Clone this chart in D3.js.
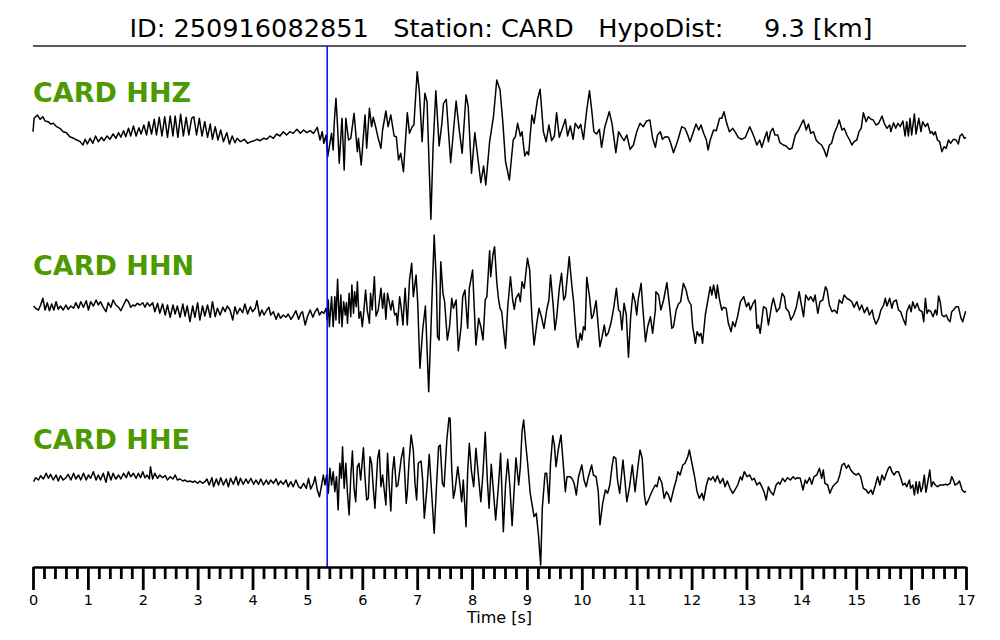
<!DOCTYPE html>
<html><head><meta charset="utf-8">
<script src="https://cdn.jsdelivr.net/npm/d3@7"></script>
<style>body{margin:0;background:#fff}svg{display:block;font-family:"DejaVu Sans",sans-serif}</style>
</head><body>
<svg id="chart" width="1000" height="640"></svg>
<script>
// ---- data ----
const eventId = "250916082851";
const station = "CARD";
const hypoDistKm = 9.3;
const channels = ["CARD HHZ", "CARD HHN", "CARD HHE"];
const pickTime = 5.36; // s
const majorTicks = d3.range(0, 18, 1);
const tickLabels = majorTicks.map(String);
const minorTicks = d3.range(0, 85).map(i => i * 0.2).filter(v => Math.abs(v - Math.round(v)) > 1e-6);

// [time s, amplitude] vertices
const hhz = [[0,3.3],[0.02,16.7],[0.08,20],[0.13,15.7],[0.18,18.3],[0.22,14],[0.28,13.3],[0.32,11],[0.37,11.7],[0.43,8.3],[0.49,6.7],[0.55,3.3],[0.61,2.3],[0.67,-1.7],[0.74,-3.3],[0.80,-5],[0.86,-6.7],[0.91,-10],[0.95,-4.3],[0.99,-9],[1.04,-3.3],[1.09,-8.3],[1.14,-1],[1.19,-6.7],[1.25,-2.3],[1.29,-5.7],[1.35,-1],[1.40,-4.3],[1.46,1],[1.51,-3.3],[1.56,2.3],[1.60,-2.3],[1.65,4.3],[1.69,-1.7],[1.74,6.7],[1.78,-1],[1.83,9],[1.88,-1],[1.93,7.3],[1.97,1],[2.02,10],[2.07,0],[2.11,13.3],[2.16,1],[2.21,15.7],[2.25,0],[2.30,17.7],[2.35,-1],[2.40,18.3],[2.45,-2.3],[2.50,19],[2.55,-1],[2.59,19],[2.64,-2.3],[2.69,20.7],[2.74,-1],[2.79,17.7],[2.84,0],[2.89,16.7],[2.93,18.3],[2.98,0],[3.03,16.7],[3.08,-1],[3.13,13.3],[3.18,-2.3],[3.23,11],[3.27,-4.3],[3.32,8.3],[3.37,-5],[3.42,5],[3.47,-6.7],[3.53,2.3],[3.58,-9],[3.63,-1],[3.68,-7.7],[3.72,-3.3],[3.78,-6.7],[3.85,-4.3],[3.91,-8.3],[3.97,-6.7],[4.03,-5.7],[4.08,-4.3],[4.14,-5.7],[4.20,-3.3],[4.26,-4.3],[4.32,-1],[4.38,-3.3],[4.44,1],[4.50,-1],[4.56,3.3],[4.62,0],[4.68,3.3],[4.74,1.7],[4.81,5.7],[4.87,1.7],[4.93,5],[4.99,2.3],[5.05,4.3],[5.11,1.7],[5.18,7.7],[5.23,-5],[5.27,3.3],[5.30,-8.3],[5.34,0],[5.37,-21.7],
[5.41,-8.3],[5.44,1.7],[5.47,-15],[5.49,13.3],[5.52,36.7],[5.55,8.3],[5.58,-28.3],[5.63,16.7],[5.67,-35],[5.70,16.7],[5.75,-5],[5.79,-3.3],[5.85,21.7],[5.91,-16.7],[5.93,-3.3],[5.98,-30],[6.05,20],[6.08,-13.3],[6.13,26.7],[6.17,8.3],[6.20,17.7],[6.25,6.7],[6.29,-3.3],[6.34,-13.3],[6.37,5],[6.43,24],[6.47,8.3],[6.52,20],[6.58,-1],[6.62,-1.7],[6.66,-25],[6.70,-18.3],[6.75,-36.7],[6.82,22.3],[6.86,1.7],[6.91,8.3],[6.94,10],[7.00,63.3],[7.04,43.3],[7.09,-6.7],[7.14,41.7],[7.18,33.3],[7.25,-84.3],[7.29,-11.7],[7.34,44.3],[7.40,-11],[7.45,11.7],[7.48,31.7],[7.53,35.7],[7.61,-27.7],[7.71,34],[7.77,3.3],[7.82,-18.3],[7.89,40],[7.93,28.3],[7.99,-38.3],[8.05,2.3],[8.11,-25],[8.16,-47.7],[8.21,-31],[8.25,-50],[8.32,-6.7],[8.39,18.3],[8.45,55],[8.51,45],[8.56,13.3],[8.61,-26.7],[8.68,-45],[8.75,-5],[8.79,-1.7],[8.83,11.7],[8.88,-1],[8.91,3.3],[8.96,-21],[9.00,-16.7],[9.03,-20],[9.09,20],[9.13,11.7],[9.19,35],[9.24,45.7],[9.30,3.3],[9.35,-6.7],[9.40,10],[9.45,-5.7],[9.50,-1],[9.54,22.3],[9.59,-2.3],[9.64,5.7],[9.70,15.7],[9.74,-1],[9.79,9],[9.84,-4.3],[9.88,11.7],[9.94,6.7],[9.98,10.7],[10.03,-4.3],[10.09,25],[10.14,44.3],[10.18,25],[10.22,3.3],[10.27,1],[10.32,5.7],[10.36,-12.3],[10.42,8.3],[10.50,23.3],[10.55,11.7],[10.62,-17.7],[10.67,3.3],[10.73,-2.3],[10.77,-5.7],[10.82,0],[10.88,-14.3],[10.94,-10],[11.00,3.3],[11.06,11.7],[11.12,8.3],[11.18,14],
[11.24,15],[11.29,-3.3],[11.34,-12.3],[11.38,0],[11.43,3.3],[11.47,-4.3],[11.52,-1.7],[11.58,-2.3],[11.62,-8.3],[11.67,-17.7],[11.72,-10],[11.76,-3.3],[11.82,8.3],[11.88,6.7],[11.93,0],[11.97,-6.7],[12.02,1],[12.08,11],[12.13,5],[12.17,10],[12.22,1.7],[12.27,-5],[12.30,-15],[12.34,-5],[12.40,5],[12.45,4.3],[12.51,16.7],[12.55,16.7],[12.59,23.3],[12.64,11.7],[12.69,3.3],[12.75,6.7],[12.79,3.3],[12.85,-2.3],[12.91,-4.3],[12.98,-2.3],[13.06,8.3],[13.10,3.3],[13.14,-2.3],[13.19,-10],[13.24,-5],[13.28,-12.3],[13.32,-5],[13.37,3.3],[13.40,-6.7],[13.44,3.3],[13.48,6.7],[13.52,0],[13.57,0],[13.61,-7.7],[13.67,-10],[13.72,-11],[13.78,-14.3],[13.83,-13.3],[13.89,0],[13.95,5],[14.01,12.3],[14.04,15],[14.09,5],[14.13,11],[14.17,1.7],[14.22,3.3],[14.27,-5],[14.31,-7.7],[14.37,-10],[14.41,-14.3],[14.46,-21.7],[14.51,-10],[14.55,-8.3],[14.60,1.7],[14.65,8.3],[14.69,15],[14.74,5],[14.78,6.7],[14.83,0],[14.88,-5],[14.92,-10],[14.96,-6.7],[15.01,-5],[15.05,3.3],[15.09,6.7],[15.13,22.3],[15.18,13.3],[15.22,18.3],[15.27,15.7],[15.31,15],[15.36,10],[15.41,11.7],[15.47,19],[15.51,11.7],[15.56,6.7],[15.61,10],[15.63,3.3],[15.68,12.3],[15.72,6.7],[15.76,11.7],[15.80,8.3],[15.85,14],[15.89,-1],[15.92,13.3],[15.95,-1],[15.98,16.7],[16.01,0],[16.06,21],[16.09,1],[16.14,16.7],[16.18,3.3],[16.21,13.3],[16.26,8.3],[16.30,11.7],[16.35,1.7],[16.38,3.3],[16.41,0],[16.44,3.3],[16.48,-5],[16.52,-6.7],[16.56,-16.7],[16.60,-11.7],[16.64,-13.3],[16.68,-5],[16.72,-8.3],[16.77,-4.3],[16.82,-5],[16.86,-9],[16.89,-1],[16.93,1],[16.97,-3.3],[17.00,-2.3]];

const hhn = [[0.01,-1],[0.05,-3.3],[0.10,-5],[0.14,0],[0.18,6.7],[0.22,-5],[0.26,2.3],[0.30,-5.7],[0.34,1],[0.38,-5],[0.42,3.3],[0.46,-4.3],[0.50,-1],[0.55,-5],[0.60,0],[0.64,-4.3],[0.69,-1],[0.74,-3.3],[0.78,2.3],[0.83,-3.3],[0.87,3.3],[0.92,-2.3],[0.97,4.3],[1.01,-5],[1.05,3.3],[1.10,-1],[1.15,5],[1.19,0],[1.23,3.3],[1.28,-2.3],[1.33,-6.7],[1.37,2.3],[1.42,-2.3],[1.46,5],[1.51,0],[1.56,-2.3],[1.60,-5.7],[1.65,0],[1.70,5.7],[1.74,3.3],[1.78,-2.3],[1.82,0],[1.86,-1],[1.90,1.7],[1.95,0],[2.00,2.3],[2.04,-2.3],[2.08,2.3],[2.13,-1],[2.18,2.3],[2.22,-6.7],[2.27,1.7],[2.31,-8.3],[2.36,1],[2.41,-10],[2.45,0],[2.50,-12.3],[2.55,0],[2.59,-9],[2.63,-1],[2.68,-12.3],[2.73,1],[2.77,-11],[2.81,-1],[2.86,-16.7],[2.91,-1],[2.95,-12.3],[3.00,2.3],[3.04,-15],[3.09,-1],[3.13,-11],[3.18,0],[3.23,-12.3],[3.27,3.3],[3.32,-11.7],[3.36,-3.3],[3.41,-10],[3.46,-2.3],[3.50,-6.7],[3.54,-1],[3.59,-5],[3.64,-15],[3.68,-1.7],[3.72,-9],[3.77,-3.3],[3.82,-7.7],[3.86,1],[3.91,-9],[3.96,-1.7],[4.00,-6.7],[4.05,-3.3],[4.08,4.3],[4.13,-11],[4.17,-5],[4.21,-10],[4.26,-5],[4.30,-2.3],[4.33,-10],[4.38,-6.7],[4.43,-14.3],[4.47,-8.3],[4.51,-13.3],[4.56,-10],[4.61,-12.3],[4.65,-9],[4.70,-14.3],[4.74,-11],[4.79,-5.7],[4.84,-14.3],[4.88,-8.3],[4.91,-6.7],[4.96,-20],[5.00,-11.7],[5.05,-5],[5.10,-12.3],[5.14,-6.7],[5.18,-3.3],[5.22,-10],[5.26,-6.7],[5.30,-8.3],[5.34,-3.3],[5.36,-15],[5.38,5],[5.40,-21.7],
[5.44,8.3],[5.47,-21.7],[5.50,8.3],[5.52,-15],[5.55,25.7],[5.58,-18.3],[5.61,10],[5.63,-21.7],[5.66,3.3],[5.69,-10],[5.71,2.3],[5.73,-18.3],[5.76,11.7],[5.79,-11.7],[5.81,20],[5.84,-8.3],[5.86,13.3],[5.89,-1.7],[5.91,23.3],[5.94,-13.3],[5.97,-6.7],[6.00,-21.7],[6.03,-5],[6.06,15],[6.09,-5],[6.13,-18.3],[6.15,11.7],[6.18,-5],[6.22,28.3],[6.25,-11],[6.29,-5],[6.34,16.7],[6.37,-3.3],[6.40,11.7],[6.43,-14.3],[6.46,11.7],[6.49,3.3],[6.52,-5],[6.55,4.3],[6.59,-10],[6.62,-8.3],[6.64,-20],[6.68,8.3],[6.71,-3.3],[6.74,-20],[6.78,16.7],[6.82,-20],[6.86,25],[6.90,41.7],[6.93,8.3],[6.98,30],[7.01,1.7],[7.05,-63.3],[7.10,-25],[7.15,-1],[7.21,-86.7],[7.25,-25],[7.31,70],[7.35,21.7],[7.37,-31.7],[7.40,-35],[7.43,43.3],[7.47,11.7],[7.50,3.3],[7.55,-35],[7.59,-21.7],[7.63,6.7],[7.66,-3.3],[7.71,5],[7.75,-45.7],[7.80,-21.7],[7.83,8.3],[7.87,15],[7.92,-23.3],[7.95,16.7],[8.01,35],[8.07,-40],[8.12,-13.3],[8.16,-21.7],[8.20,-35],[8.24,5],[8.27,8.3],[8.32,54.3],[8.34,28.3],[8.38,50],[8.41,58.3],[8.45,23.3],[8.48,6.7],[8.51,-3.3],[8.54,-6.7],[8.57,-23.3],[8.61,-43.3],[8.65,-1.7],[8.70,28.3],[8.74,5],[8.77,-4.3],[8.80,6.7],[8.85,11.7],[8.88,3.3],[8.91,23.3],[8.95,16.7],[9.01,46.7],[9.05,35],[9.09,-11.7],[9.13,-40],[9.18,-18.3],[9.22,-3.3],[9.27,-13.3],[9.31,-23.3],[9.36,-5],[9.40,5],[9.43,30],[9.48,-1.7],[9.51,-25],[9.54,-13.3],[9.59,16.7],[9.63,31.7],[9.67,5],[9.70,8.3],[9.73,25],[9.77,48.3],[9.82,18.3],[9.85,3.3],[9.90,-33.3],[9.93,-42.3],[9.97,-28.3],[10.00,-35],[10.03,-21.7],[10.06,-25],[10.09,27.7],[10.14,8.3],[10.18,-13.3],[10.21,-10],[10.26,4.3],[10.30,-21.7],[10.33,-41.7],[10.37,-31.7],[10.41,-20],[10.44,-31],[10.48,-28.3],[10.53,-18.3],[10.58,-3.3],[10.63,16.7],[10.67,-5],[10.70,-6.7],[10.73,-25],[10.77,1.7],[10.81,-10],[10.85,-52.3],[10.89,-11.7],[10.93,11.7],[10.97,3.3],[11.00,-10],[11.03,6.7],[11.08,21.7],[11.11,-1.7],[11.16,-36.7],[11.20,-21.7],
[11.25,-11.7],[11.29,-28.3],[11.34,-5],[11.35,13.3],[11.40,10],[11.44,-5],[11.49,5],[11.55,22.3],[11.60,-1.7],[11.64,-23.3],[11.67,-21.7],[11.72,-5],[11.76,1],[11.80,3.3],[11.85,21.7],[11.90,15],[11.94,5],[11.99,0],[12.02,-21.7],[12.07,-38.3],[12.10,-26.7],[12.14,-31],[12.17,-28.3],[12.20,-38.3],[12.25,-10],[12.31,9],[12.34,18.3],[12.37,10],[12.40,20],[12.45,6.7],[12.47,20],[12.51,5],[12.55,-5],[12.58,-2.3],[12.63,-3.3],[12.67,-18.3],[12.72,-26.7],[12.75,-16.7],[12.79,-21.7],[12.84,-11],[12.89,3.3],[12.95,8.3],[13.00,-1.7],[13.04,2.3],[13.07,-5],[13.12,1.7],[13.16,5],[13.19,-23.3],[13.22,-20],[13.25,-28.3],[13.31,-1.7],[13.36,-3.3],[13.40,-20],[13.46,0],[13.49,6.7],[13.55,-6.7],[13.60,-3.3],[13.65,11.7],[13.69,8.3],[13.72,-3.3],[13.77,-6.7],[13.81,-15],[13.86,-10],[13.91,-1.7],[13.96,13.3],[13.99,3.3],[14.04,-11.7],[14.08,10],[14.13,5],[14.17,8.3],[14.22,3.3],[14.25,10],[14.30,-8.3],[14.34,3.3],[14.39,5],[14.44,18.3],[14.47,15],[14.51,0],[14.56,-6.7],[14.60,-5],[14.65,-8.3],[14.69,5],[14.74,1.7],[14.78,10],[14.83,6.7],[14.88,5],[14.92,3.3],[14.96,-2.3],[15.01,3.3],[15.06,-5],[15.10,0],[15.15,-7.7],[15.20,-2.3],[15.24,-10],[15.29,-5],[15.32,-13.3],[15.36,-19],[15.41,-13.3],[15.45,-5],[15.50,0],[15.53,6.7],[15.56,-1],[15.61,6.7],[15.65,-3.3],[15.68,3.3],[15.73,5],[15.77,-5],[15.81,-6.7],[15.85,-13.3],[15.90,-20],[15.92,-6.7],[15.97,0],[16.00,-6.7],[16.03,3.3],[16.07,-3.3],[16.11,1.7],[16.15,-5],[16.20,-6.7],[16.23,-16.7],[16.26,6.7],[16.29,-8.3],[16.32,-5],[16.36,-6.7],[16.40,-11.7],[16.44,-5],[16.47,-10],[16.50,9],[16.53,3.3],[16.56,-10],[16.60,-11.7],[16.64,-10],[16.68,-15],[16.71,-16.7],[16.74,-6.7],[16.77,-5],[16.82,-1.7],[16.86,-1.7],[16.91,-13.3],[16.94,-16.7],[16.99,-6.7],[17.00,-6.7]];

const hhe = [[0.01,-1.7],[0.05,2.3],[0.10,0],[0.14,4.3],[0.19,1],[0.24,6.7],[0.28,1.7],[0.32,5.7],[0.37,0],[0.42,5],[0.46,-1],[0.50,4.3],[0.55,0],[0.60,2.3],[0.64,5.7],[0.69,0],[0.74,6.7],[0.78,1],[0.83,5],[0.87,0],[0.92,6.7],[0.97,0],[1.01,5],[1.05,1.7],[1.10,8.3],[1.15,0],[1.19,5],[1.23,0],[1.28,6.7],[1.33,-2.3],[1.37,8.3],[1.42,0],[1.46,6.7],[1.51,1],[1.56,5],[1.60,1],[1.65,6.7],[1.70,2.3],[1.74,8.3],[1.78,3.3],[1.83,6.7],[1.88,1.7],[1.92,6.7],[1.96,2.3],[2.00,8.3],[2.04,2.3],[2.08,5],[2.12,1],[2.14,13.3],[2.18,1],[2.22,6.7],[2.27,1.7],[2.31,5],[2.36,2.3],[2.41,4.3],[2.45,0],[2.50,3.3],[2.55,1],[2.59,5],[2.63,0],[2.68,1],[2.73,-1],[2.77,0],[2.81,-1.7],[2.86,-1],[2.91,-2.3],[2.95,-1],[3.00,-3.3],[3.04,-1],[3.09,-3.3],[3.13,-1.7],[3.17,1],[3.21,-5],[3.26,2.3],[3.29,-6.7],[3.34,1],[3.38,-5],[3.42,2.3],[3.47,-5],[3.52,1],[3.56,-6.7],[3.60,1.7],[3.65,-4.3],[3.70,3.3],[3.74,-5],[3.78,1.7],[3.83,-4.3],[3.88,1],[3.92,-3.3],[3.97,1.7],[4.02,-4.3],[4.06,0],[4.11,-4.3],[4.15,1],[4.20,-5],[4.25,0],[4.29,-4.3],[4.33,0],[4.38,-3.3],[4.43,1],[4.47,-5],[4.51,-1],[4.56,-4.3],[4.61,0],[4.65,-6.7],[4.70,-1.7],[4.74,-6.7],[4.79,0],[4.84,-6.7],[4.88,-8.3],[4.93,-3.3],[4.98,-8.3],[5.02,1.7],[5.06,-9],[5.11,-3.3],[5.14,3.3],[5.18,-10],[5.22,-16.7],[5.26,-5],[5.29,5],[5.32,-5],[5.35,5],[5.38,-13.3],[5.41,11.7],[5.44,-5],[5.47,8.3],[5.50,-11.7],[5.53,3.3],[5.56,-30],[5.59,16.7],
[5.62,1.7],[5.64,33.3],[5.67,-8.3],[5.70,16.7],[5.73,-13.3],[5.76,-35],[5.79,3.3],[5.82,29],[5.85,-8.3],[5.88,-21.7],[5.91,13.3],[5.94,16.7],[5.97,0],[6.02,32.3],[6.05,1.7],[6.08,-20],[6.11,-18.3],[6.14,23.3],[6.17,16.7],[6.20,-8.3],[6.23,-28.3],[6.28,21.7],[6.31,30],[6.34,-6.7],[6.37,5],[6.39,-5],[6.43,-25],[6.46,26.7],[6.49,-5],[6.52,-31],[6.55,8.3],[6.58,23.3],[6.62,-6.7],[6.65,-5],[6.68,8.3],[6.71,21.7],[6.75,32.3],[6.80,-23.3],[6.82,-13.3],[6.85,16.7],[6.89,45],[6.93,30],[6.96,-3.3],[6.99,-20],[7.02,16.7],[7.07,19],[7.10,0],[7.13,-38.3],[7.18,-6.7],[7.22,25.7],[7.27,-18.3],[7.31,-53.3],[7.35,-8.3],[7.39,33.3],[7.42,35],[7.46,-3.3],[7.49,-6.7],[7.54,40],[7.58,62.3],[7.60,61.7],[7.63,10],[7.66,-18.3],[7.69,-10],[7.74,13.3],[7.78,-5],[7.81,-21.7],[7.84,0],[7.89,-46.7],[7.92,8.3],[7.95,36.7],[7.99,8.3],[8.03,-6.7],[8.07,31.7],[8.12,1.7],[8.16,-21.7],[8.20,8.3],[8.24,47.7],[8.28,-1.7],[8.31,-28.3],[8.35,15.7],[8.39,-11.7],[8.43,-40],[8.48,-6.7],[8.52,26.7],[8.57,-51.7],[8.61,-5],[8.65,20.7],[8.69,-6.7],[8.73,-45.7],[8.77,-6.7],[8.80,22.3],[8.85,-5],[8.88,13.3],[8.91,48.3],[8.94,60],[8.98,35],[9.01,18.3],[9.06,-13.3],[9.09,-23.3],[9.13,-36.7],[9.17,-33.3],[9.21,-55],[9.25,-85],[9.28,-28.3],[9.33,6.7],[9.36,6.7],[9.40,-23.3],[9.43,16.7],[9.47,44.3],[9.50,35],[9.53,13.3],[9.57,30],[9.62,45],[9.67,10],[9.70,-11.7],[9.73,3.3],[9.78,3.3],[9.82,1.7],[9.86,-3.3],[9.90,-15],[9.94,3.3],[10.00,15],[10.04,0],[10.08,-6.7],[10.12,3.3],[10.18,15],[10.21,5],[10.26,3.3],[10.30,-11.7],[10.33,-45],[10.38,-23.3],[10.43,-10],[10.47,-13.3],[10.51,-5],[10.55,13.3],[10.58,23.3],[10.62,21.7],[10.65,0],[10.69,-13.3],[10.75,20],[10.79,-3.3],[10.82,-21.7],[10.87,-6.7],[10.92,15],[10.97,-11.7],[11.00,3.3],[11.06,30],[11.10,21.7],
[11.14,-15],[11.17,-25],[11.20,-21.7],[11.25,-15],[11.29,-10],[11.34,-5],[11.37,-6.7],[11.41,3.3],[11.46,-3.3],[11.50,-18.3],[11.54,-11.7],[11.58,-15],[11.62,-21.7],[11.67,-10],[11.72,0],[11.75,8.3],[11.79,5],[11.84,15],[11.88,16.7],[11.93,23.3],[11.96,30],[12.00,18.3],[12.05,5],[12.10,-11.7],[12.14,-18.3],[12.19,-13.3],[12.22,-20],[12.27,-5],[12.31,2.3],[12.35,0],[12.39,3.3],[12.43,-1.7],[12.47,4.3],[12.52,-3.3],[12.57,1.7],[12.61,-6.7],[12.65,-1],[12.70,-8.3],[12.75,-13.3],[12.79,-10],[12.84,-5],[12.89,3.3],[12.92,0],[12.96,8.3],[13.01,3.3],[13.06,5],[13.10,0],[13.14,1.7],[13.19,-5],[13.24,-2.3],[13.28,-6.7],[13.32,-11.7],[13.36,-20],[13.40,-6.7],[13.44,-11.7],[13.49,-15],[13.54,-5],[13.58,-2.3],[13.61,-4.3],[13.66,1.7],[13.70,-1.7],[13.75,2.3],[13.80,0],[13.85,3.3],[13.89,1],[13.93,2.3],[13.98,1.7],[14.03,-10],[14.07,0],[14.10,-3.3],[14.15,2.3],[14.19,-4.3],[14.23,3.3],[14.28,5],[14.33,11.7],[14.37,1.7],[14.40,10],[14.43,-3.3],[14.48,-5],[14.52,-13.3],[14.57,-6.7],[14.61,-4.3],[14.66,-1.7],[14.70,5],[14.74,15],[14.78,16.7],[14.82,11.7],[14.86,15],[14.90,10],[14.95,6.7],[15.00,5],[15.04,6.7],[15.08,3.3],[15.13,-8.3],[15.18,-10],[15.22,-13.3],[15.27,-10],[15.30,-14.3],[15.35,-5],[15.39,3.3],[15.43,-5],[15.47,5],[15.51,0],[15.55,6.7],[15.59,12.3],[15.62,13.3],[15.65,8.3],[15.69,5],[15.73,8.3],[15.77,8.3],[15.81,2.3],[15.85,-5],[15.89,-3.3],[15.92,-6.7],[15.97,0],[15.99,-8.3],[16.03,-5],[16.06,-15],[16.09,-1.7],[16.12,-13.3],[16.15,-1.7],[16.18,-11.7],[16.21,-6.7],[16.24,5],[16.27,-12.3],[16.31,0],[16.34,10],[16.37,-6.7],[16.40,-1.7],[16.44,-5],[16.48,-6.7],[16.53,-5],[16.58,-5],[16.63,-4.3],[16.66,-5],[16.71,-3.3],[16.74,3.3],[16.77,0],[16.80,-5],[16.85,-3.3],[16.88,-1],[16.93,-10],[16.97,-12.3],[17.00,-11]];

const traces = [hhz, hhn, hhe];

// ---- layout ----
const svg = d3.select("#chart");
const W = 1000, H = 640;
const left = 33, right = 966;
const titleRuleY = 46, axisY = 567;
const traceBase = [135, 305, 480];
const labelBase = [101.5, 275, 448.5];
const green = "#4c9a00";

svg.append("rect").attr("width", W).attr("height", H).attr("fill", "#fff");

const x = d3.scaleLinear().domain([0, 17]).range([left, right]);

// title
svg.append("text")
  .attr("x", 501).attr("y", 36.5)
  .attr("text-anchor", "middle")
  .style("white-space", "pre")
  .attr("font-size", 25.6).attr("fill", "#000")
  .text(`ID: ${eventId}   Station: ${station}   HypoDist:     ${hypoDistKm.toFixed(1)} [km]`);

svg.append("line")
  .attr("x1", left).attr("x2", right).attr("y1", titleRuleY).attr("y2", titleRuleY)
  .attr("stroke", "#222").attr("stroke-width", 1.5);

// traces
traces.forEach((tr, i) => {
  const y = d3.scaleLinear().domain([-100, 100]).range([traceBase[i] + 100, traceBase[i] - 100]);
  const line = d3.line().x(d => x(d[0])).y(d => y(d[1]));
  svg.append("path").datum(tr)
    .attr("d", line)
    .attr("fill", "none").attr("stroke", "#000")
    .attr("stroke-width", 1.5).attr("stroke-linejoin", "round");
  svg.append("text")
    .attr("x", left).attr("y", labelBase[i])
    .attr("font-size", 27).attr("font-weight", "bold")
    .attr("fill", green)
    .text(channels[i]);
});

// P pick line
svg.append("line")
  .attr("x1", x(pickTime)).attr("x2", x(pickTime))
  .attr("y1", titleRuleY).attr("y2", axisY)
  .attr("stroke", "#0000ff").attr("stroke-width", 1.5);

// axis
const minorAxis = d3.axisBottom(x).tickValues(minorTicks).tickSize(12).tickSizeOuter(0).tickFormat("");
const majorAxis = d3.axisBottom(x).tickValues(majorTicks).tickSize(23).tickSizeOuter(0).tickPadding(5)
  .tickFormat((d, i) => tickLabels[i]);
const gMinor = svg.append("g").attr("transform", `translate(0,${axisY})`).call(minorAxis);
const gMajor = svg.append("g").attr("transform", `translate(0,${axisY})`).call(majorAxis);
[gMinor, gMajor].forEach(g => {
  g.select(".domain").attr("stroke", "#000").attr("stroke-width", 2);
  g.selectAll(".tick line").attr("stroke", "#000").attr("stroke-width", 2.8);
});
gMajor.selectAll(".tick text").attr("font-size", 14.5).attr("font-family", "DejaVu Sans").attr("fill", "#000");

svg.append("text")
  .attr("x", (left + right) / 2).attr("y", 623)
  .attr("text-anchor", "middle").attr("font-size", 16).attr("fill", "#000")
  .text("Time [s]");
</script>
</body></html>
